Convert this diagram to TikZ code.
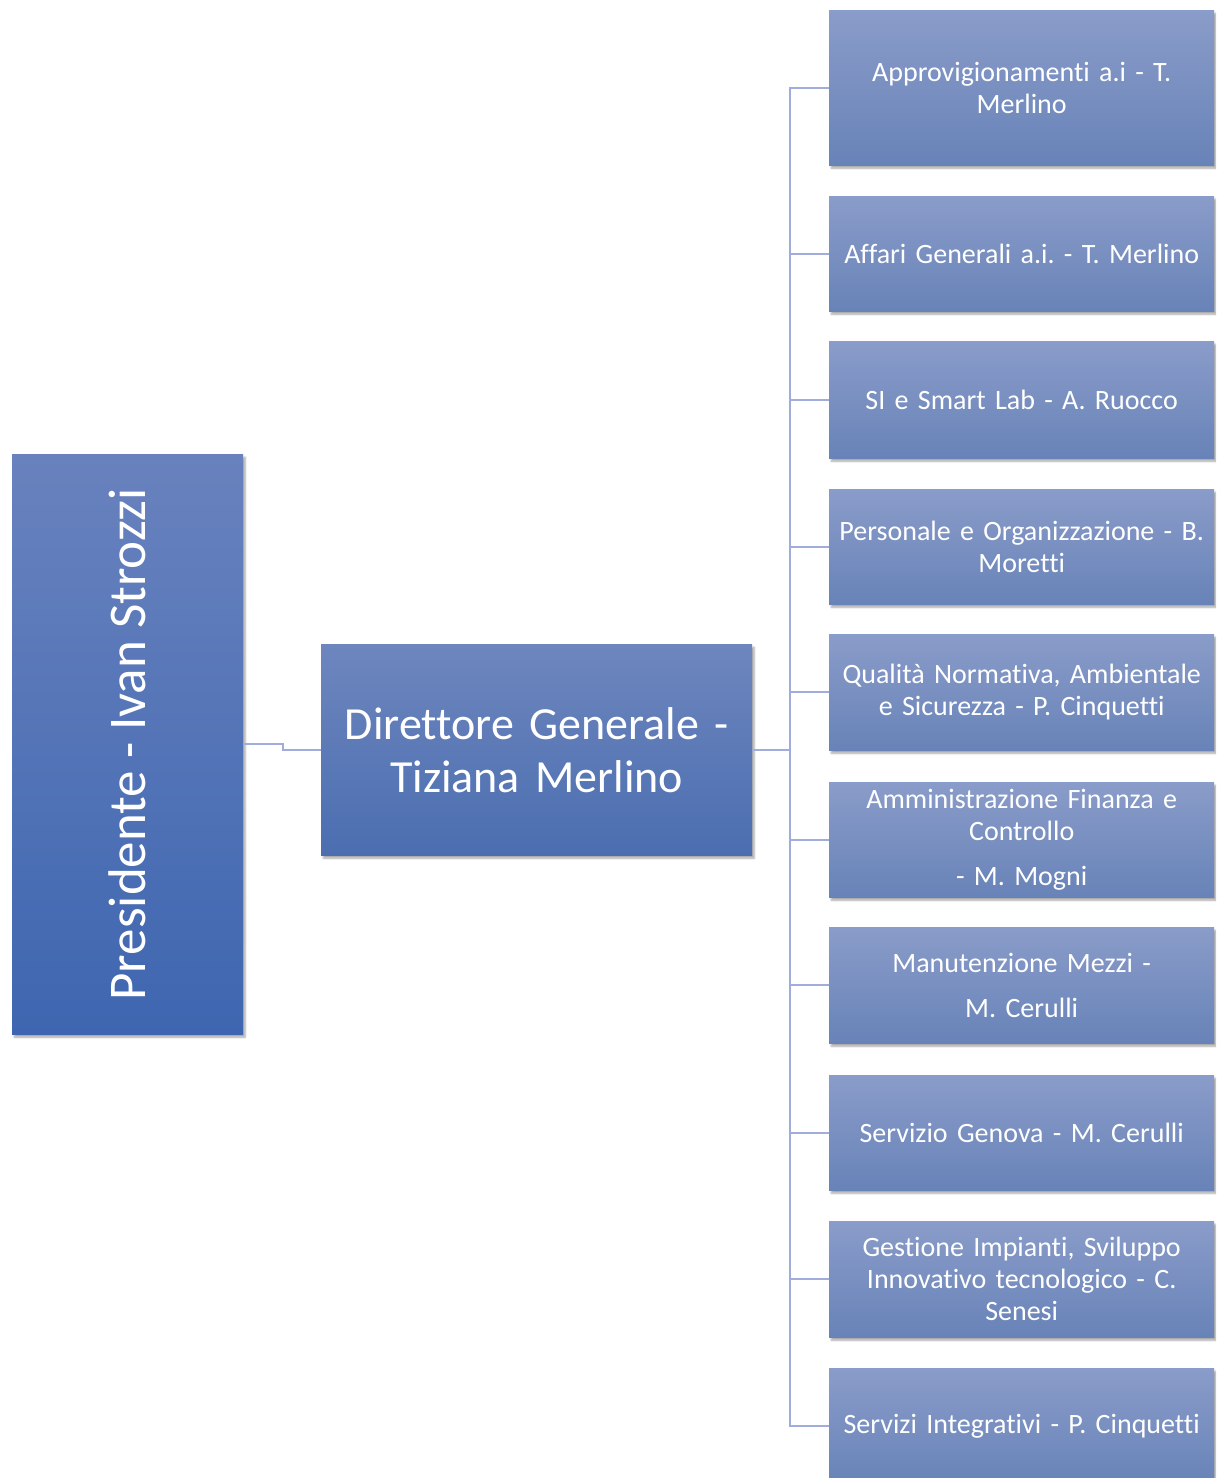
\documentclass[tikz,border=0pt]{standalone}
\usepackage{fontspec}
\setmainfont{Carlito}[Ligatures=NoCommon]
\frenchspacing
\usetikzlibrary{shadows.blur}
\definecolor{linec}{RGB}{160,172,220}
\definecolor{unittop}{RGB}{138,156,201}
\definecolor{unitbot}{RGB}{104,131,184}
\definecolor{dirtop}{RGB}{110,134,190}
\definecolor{dirbot}{RGB}{75,110,176}
\definecolor{prestop}{RGB}{105,130,190}
\definecolor{presbot}{RGB}{62,102,176}
\begin{document}
\begin{tikzpicture}[x=1pt,y=-1pt,
  boxshadow/.style={blur shadow={shadow xshift=2pt, shadow yshift=-3pt, shadow blur steps=6, shadow opacity=35}},
  unit/.style={rectangle, anchor=north west, inner sep=0pt, minimum width=385pt, text width=381pt,
    align=center, text=white, top color=unittop, bottom color=unitbot, boxshadow,
    font=\fontsize{28}{32}\selectfont},
  conn/.style={draw=linec, line width=2pt},
]
\useasboundingbox (0,0) rectangle (1216,1478);
\clip (0,0) rectangle (1216,1478);

\node[rectangle, anchor=north west, inner sep=0pt, minimum width=231pt, minimum height=580pt,
  top color=prestop, bottom color=presbot, text=white, boxshadow,
  font=\fontsize{53}{60}\selectfont] (pres) at (12,454) {\rotatebox{90}{Presidente - Ivan Strozzi}};

\node[rectangle, anchor=north west, inner sep=0pt, minimum width=431pt, minimum height=211pt,
  text width=425pt, align=center, top color=dirtop, bottom color=dirbot, text=white, boxshadow,
  font=\fontsize{46}{53}\selectfont] (dir) at (321,644) {Direttore Generale -\\Tiziana Merlino};

\node[unit, minimum height=155pt] (u1) at (829,10) {Approvigionamenti a.i - T.\\Merlino};
\node[unit, minimum height=115pt] (u2) at (829,196) {Affari Generali a.i. - T. Merlino};
\node[unit, minimum height=117pt] (u3) at (829,341) {SI e Smart Lab - A. Ruocco};
\node[unit, minimum height=115pt] (u4) at (829,489) {Personale e Organizzazione - B.\\Moretti};
\node[unit, minimum height=116pt] (u5) at (829,634) {Qualità Normativa, Ambientale\\e Sicurezza - P. Cinquetti};
\node[unit, minimum height=115pt] (u6) at (829,782) {Amministrazione Finanza e\\Controllo\\[13pt]- M. Mogni};
\node[unit, minimum height=116pt] (u7) at (829,927) {Manutenzione Mezzi -\\[13pt]M. Cerulli};
\node[unit, minimum height=115pt] (u8) at (829,1075) {Servizio Genova - M. Cerulli};
\node[unit, minimum height=116pt] (u9) at (829,1221) {Gestione Impianti, Sviluppo\\Innovativo tecnologico - C.\\Senesi};
\node[unit, minimum height=116pt] (u10) at (829,1368) {Servizi Integrativi - P. Cinquetti};

\path (dir.east) ++(38,0) coordinate (tk);
\draw[conn] (pres.east) -- ++(40,0) |- (dir.west);
\draw[conn] (dir.east) -- (tk);
\foreach \u in {u1,u2,u3,u4,u5,u6,u7,u8,u9,u10}{
  \draw[conn] (\u.west) -| (tk);
}
\end{tikzpicture}
\end{document}
